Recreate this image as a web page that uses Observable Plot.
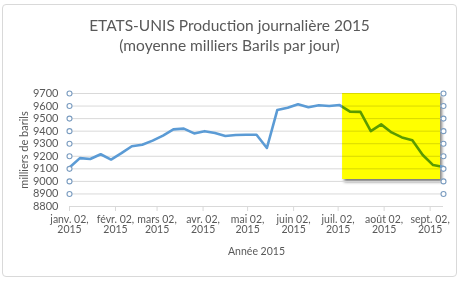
<!DOCTYPE html>
<html><head><meta charset="utf-8">
<script src="https://cdn.jsdelivr.net/npm/d3@7"></script>
<script src="https://cdn.jsdelivr.net/npm/@observablehq/plot@0.6"></script>
<style>
body{margin:0;background:#fff;font-family:Lato,"Open Sans",sans-serif;}
#wrap{position:relative;width:460px;height:284px;overflow:hidden;background:#fff;}
#frame{position:absolute;left:2px;top:4px;width:453px;height:271px;border:1px solid #d9d9d9;border-radius:4px;}
#title{position:absolute;left:0;top:15px;width:459px;text-align:center;font-size:15.5px;line-height:20px;color:#595959;}
#chart{position:absolute;left:0;top:60px;}
</style></head>
<body><div id="wrap"><div id="frame"></div>
<div id="title">ETATS-UNIS Production journalière 2015<br>(moyenne milliers Barils par jour)</div>
<div id="chart"></div></div>
<script>
const weekDates = ["2015-01-02","2015-01-09","2015-01-16","2015-01-23","2015-01-30","2015-02-06","2015-02-13","2015-02-20","2015-02-27","2015-03-06","2015-03-13","2015-03-20","2015-03-27","2015-04-03","2015-04-10","2015-04-17","2015-04-24","2015-05-01","2015-05-08","2015-05-15","2015-05-22","2015-05-29","2015-06-05","2015-06-12","2015-06-19","2015-06-26","2015-07-03","2015-07-10","2015-07-17","2015-07-24","2015-07-31","2015-08-07","2015-08-14","2015-08-21","2015-08-28","2015-09-04","2015-09-11"];
const production = [9110,9185,9178,9216,9174,9225,9280,9292,9325,9365,9414,9420,9382,9400,9385,9362,9370,9372,9372,9266,9568,9586,9614,9590,9606,9600,9608,9555,9554,9400,9454,9390,9350,9328,9210,9130,9114];
const tickDates = ["2015-01-02","2015-02-02","2015-03-02","2015-04-02","2015-05-02","2015-06-02","2015-07-02","2015-08-02","2015-09-02"];
const tickLabels = ["janv. 02,\n2015","févr. 02,\n2015","mars 02,\n2015","avr. 02,\n2015","mai 02,\n2015","juin 02,\n2015","juil. 02,\n2015","août 02,\n2015","sept. 02,\n2015"];
const yTicks = [8800,8900,9000,9100,9200,9300,9400,9500,9600,9700];
const gridValues = [8900,9000,9100,9200,9300,9400,9500,9600,9700];
const handleValues = [8900,9000,9100,9200,9300,9400,9500,9600,9700];
const highlightDates = ["2015-07-05","2015-09-09"];
const highlightRange = [9015,9700];

const parse = d => new Date(d + "T00:00:00Z");
const data = weekDates.map((d, i) => ({date: parse(d), value: production[i]}));
const ticks = tickDates.map(parse);
const labelMap = new Map(ticks.map((t, i) => [t.getTime(), tickLabels[i]]));
const xFirst = data[0].date, xLast = data[data.length - 1].date;
const box = [{x1: parse(highlightDates[0]), x2: parse(highlightDates[1]), y1: highlightRange[0], y2: highlightRange[1]}];

const plot = Plot.plot({
  width: 460, height: 210,
  marginTop: 33, marginBottom: 64, marginLeft: 69, marginRight: 17,
  style: {fontFamily: "Lato, 'Open Sans', sans-serif", fontSize: "10.5px", color: "#595959", background: "transparent"},
  x: {type: "utc", domain: [xFirst, xLast]},
  y: {domain: [8800, 9700]},
  marks: [
    Plot.rect(box, {x1: "x1", x2: "x2", y1: "y1", y2: "y2", fill: "#010101", fillOpacity: 0.5, dx: 2, dy: 3}),
    Plot.rect(box, {x1: "x1", x2: "x2", y1: "y1", y2: "y2", fill: "#ffffff"}),
    Plot.ruleY(gridValues, {stroke: "#d9d9d9", strokeWidth: 1}),
    Plot.ruleY([8800], {stroke: "#d9d9d9", strokeWidth: 1}),
    Plot.axisX(ticks, {tickFormat: d => labelMap.get(d.getTime()), fontSize: 10.5, tickSize: 5, tickPadding: 4, stroke: "#d9d9d9", label: "Année 2015", labelAnchor: "center", labelOffset: 48, labelArrow: "none"}),
    Plot.axisY(yTicks, {tickFormat: d => String(d), fontSize: 11, tickSize: 0, tickPadding: 11, label: "milliers de barils", labelAnchor: "center", labelOffset: 49, labelArrow: "none"}),
    Plot.line(data, {x: "date", y: "value", stroke: "#5b9bd5", strokeWidth: 2.6, strokeLinejoin: "round", strokeLinecap: "round"}),
    Plot.rect(box, {x1: "x1", x2: "x2", y1: "y1", y2: "y2", fill: "#ffff00", mixBlendMode: "multiply"}),
    Plot.dot(handleValues, {x: () => xFirst, y: d => d, r: 2.5, stroke: "#7a9cc0", strokeWidth: 1.1, fill: "white"}),
    Plot.dot(handleValues, {x: () => xLast, y: d => d, r: 2.5, stroke: "#7a9cc0", strokeWidth: 1.1, fill: "white"})
  ]
});
const ns = "http://www.w3.org/2000/svg";
const defs = document.createElementNS(ns, "defs");
const filter = document.createElementNS(ns, "filter");
filter.setAttribute("id", "boxshadow");
filter.setAttribute("x", "-10%"); filter.setAttribute("y", "-10%");
filter.setAttribute("width", "130%"); filter.setAttribute("height", "130%");
const blur = document.createElementNS(ns, "feGaussianBlur");
blur.setAttribute("stdDeviation", "1.8");
filter.appendChild(blur); defs.appendChild(filter);
plot.insertBefore(defs, plot.firstChild);
plot.querySelectorAll('[fill="#010101"]').forEach(g => g.setAttribute("filter", "url(#boxshadow)"));
document.getElementById("chart").appendChild(plot);
</script>
</body></html>
